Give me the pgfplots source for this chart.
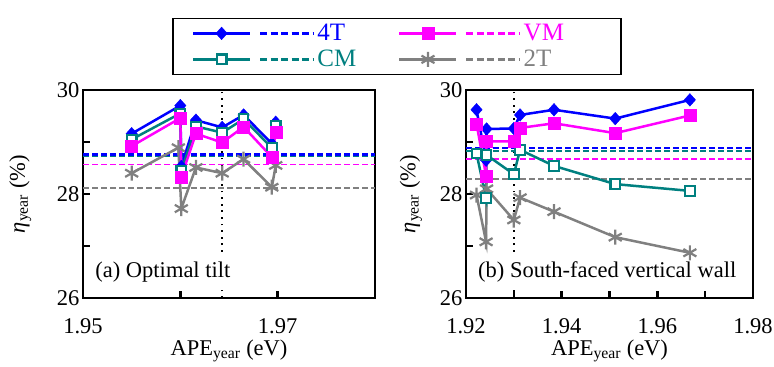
\documentclass[border=0pt]{standalone}
\usepackage{fontspec}
\setmainfont{Liberation Serif}
\usepackage{pgfplots}
\pgfplotsset{compat=1.18}
\definecolor{c4t}{RGB}{0,0,255}
\definecolor{cvm}{RGB}{255,0,255}
\definecolor{ccm}{RGB}{0,128,128}
\definecolor{c2t}{RGB}{128,128,128}
\tikzset{
  s4t/.style={c4t, line width=2.5bp, solid, mark=diamond*, mark size=6.3bp, mark options={solid, xscale=1.2, fill=c4t, line width=0.4bp}},
  svm/.style={cvm, line width=2.5bp, solid, mark=square*, mark size=6bp, mark options={solid, fill=cvm, line width=0.4bp}},
  scm/.style={ccm, line width=2.5bp, solid, mark=square*, mark size=4.8bp, mark options={solid, fill=white, line width=2.2bp}},
  s2t/.style={c2t, line width=2.5bp, solid, mark=asterisk, mark size=7.5bp, mark options={solid, line width=2.2bp}},
  dsh/.style={dash pattern=on 6bp off 3bp},
  vdot/.style={black, line width=2bp, dash pattern=on 1.8bp off 4.8bp},
}
\pgfplotsset{
  base/.style={
    scale only axis,
    axis line style={line width=2.5bp},
    ymin=26, ymax=30, ytick={26,27,28,29,30}, yticklabels={26,,28,,30},
    xtick pos=bottom, ytick pos=left, tick align=inside,
    major tick length=7bp, tick style={line width=2.5bp, black},
    font=\fontsize{22.5bp}{27bp}\selectfont,
    xticklabel style={yshift=-17bp},
    ylabel={\textit{η}\textsubscript{year} (\%)},
    xlabel={APE\textsubscript{year} (eV)},
    xlabel style={at={(axis description cs:0.5,-0.275)}, anchor=base},
  }
}
\begin{document}
\begin{tikzpicture}
\useasboundingbox (0,0) rectangle (774bp,367bp);
% ---------------- panel (a)
\begin{axis}[base, at={(83bp,69bp)}, anchor=south west, width=292bp, height=208bp,
  xmin=1.95, xmax=1.98, xtick={1.95,1.96,1.97}, xticklabels={1.95,,1.97},
  ylabel style={at={(axis description cs:-0.215,0.5)}, anchor=center},
  legend columns=2, legend cell align=left,
  legend image code/.code={
     \draw[mark repeat=2,mark phase=2,#1] plot coordinates {(0bp,0bp) (28.5bp,0bp) (57bp,0bp)};
     \draw[#1,dash pattern=on 7bp off 3.5bp] (67bp,0bp) -- (121bp,0bp);},
  legend style={at={(0.305,1.348)}, anchor=north west, draw=black, line width=1.6bp, fill=white,
     font=\fontsize{25bp}{28bp}\selectfont, inner xsep=19bp, inner ysep=4bp, row sep=4bp,
     /tikz/every even column/.append style={column sep=40bp}},
]
\addplot[vdot, forget plot] coordinates {(1.9643,26) (1.9643,30)};
\addplot[ccm, line width=2.2bp, dsh, forget plot] coordinates {(1.95,28.74) (1.98,28.74)};
\addplot[c4t, line width=2.2bp, dsh, forget plot] coordinates {(1.95,28.76) (1.98,28.76)};
\addplot[cvm, line width=1.6bp, dsh, forget plot] coordinates {(1.95,28.57) (1.98,28.57)};
\addplot[c2t, line width=1.6bp, dsh, forget plot] coordinates {(1.95,28.11) (1.98,28.11)};
\addplot[s2t, forget plot] coordinates {(1.9550,28.40) (1.9598,28.89) (1.9601,27.72) (1.9616,28.51) (1.9643,28.40) (1.9665,28.67) (1.9694,28.13) (1.9698,28.55)};
\addplot[s4t, forget plot] coordinates {(1.9550,29.16) (1.9600,29.70) (1.9601,28.53) (1.9616,29.42) (1.9643,29.28) (1.9665,29.52) (1.9694,28.97) (1.9698,29.38)};
\addplot[scm, forget plot] coordinates {(1.9550,29.05) (1.9600,29.55) (1.9601,28.44) (1.9616,29.30) (1.9643,29.18) (1.9665,29.44) (1.9694,28.89) (1.9698,29.31)};
\addplot[svm, forget plot] coordinates {(1.9550,28.92) (1.9600,29.46) (1.9601,28.33) (1.9616,29.16) (1.9643,28.99) (1.9665,29.29) (1.9694,28.71) (1.9698,29.18)};
\node[fill=white, anchor=west, inner xsep=2bp, inner ysep=6bp] at (rel axis cs:0.035,0.125) {(a) Optimal tilt};
\addlegendimage{s4t}\addlegendentry{\textcolor{c4t}{4T}}
\addlegendimage{svm}\addlegendentry{\makebox[76bp][l]{\textcolor{cvm}{VM}}}
\addlegendimage{scm}\addlegendentry{\textcolor{ccm}{CM}}
\addlegendimage{s2t}\addlegendentry{\makebox[76bp][l]{\textcolor{c2t}{2T}}}
\end{axis}
% ---------------- panel (b)
\begin{axis}[base, at={(466bp,69bp)}, anchor=south west, width=287bp, height=208bp,
  xmin=1.92, xmax=1.98, xtick={1.92,1.93,1.94,1.95,1.96,1.97,1.98}, xticklabels={1.92,,1.94,,1.96,,1.98},
  ylabel style={at={(axis description cs:-0.192,0.5)}, anchor=center},
]
\addplot[vdot] coordinates {(1.930,26) (1.930,30)};
\addplot[ccm, line width=2.2bp, dsh] coordinates {(1.92,28.83) (1.98,28.83)};
\addplot[c4t, line width=2.2bp, dsh] coordinates {(1.92,28.88) (1.98,28.88)};
\addplot[cvm, line width=1.8bp, dsh] coordinates {(1.92,28.68) (1.98,28.68)};
\addplot[c2t, line width=1.6bp, dsh] coordinates {(1.92,28.29) (1.98,28.29)};
\addplot[s2t] coordinates {(1.9222,27.98) (1.9242,27.08) (1.9243,28.10) (1.9300,27.50) (1.9313,27.93) (1.9384,27.66) (1.9512,27.17) (1.9668,26.87)};
\addplot[s4t] coordinates {(1.9222,29.62) (1.9242,28.65) (1.9243,29.25) (1.9300,29.26) (1.9313,29.52) (1.9384,29.62) (1.9512,29.45) (1.9668,29.81)};
\addplot[scm] coordinates {(1.9222,28.78) (1.9242,27.92) (1.9243,28.75) (1.9300,28.38) (1.9313,28.85) (1.9384,28.54) (1.9512,28.19) (1.9668,28.06)};
\addplot[svm] coordinates {(1.9222,29.35) (1.9242,28.35) (1.9243,29.01) (1.9300,29.01) (1.9313,29.27) (1.9384,29.36) (1.9512,29.17) (1.9668,29.51)};
\node[fill=white, anchor=west, inner xsep=2bp, inner ysep=6bp] at (rel axis cs:0.035,0.125) {(b) South-faced vertical wall};
\end{axis}
\end{tikzpicture}
\end{document}
